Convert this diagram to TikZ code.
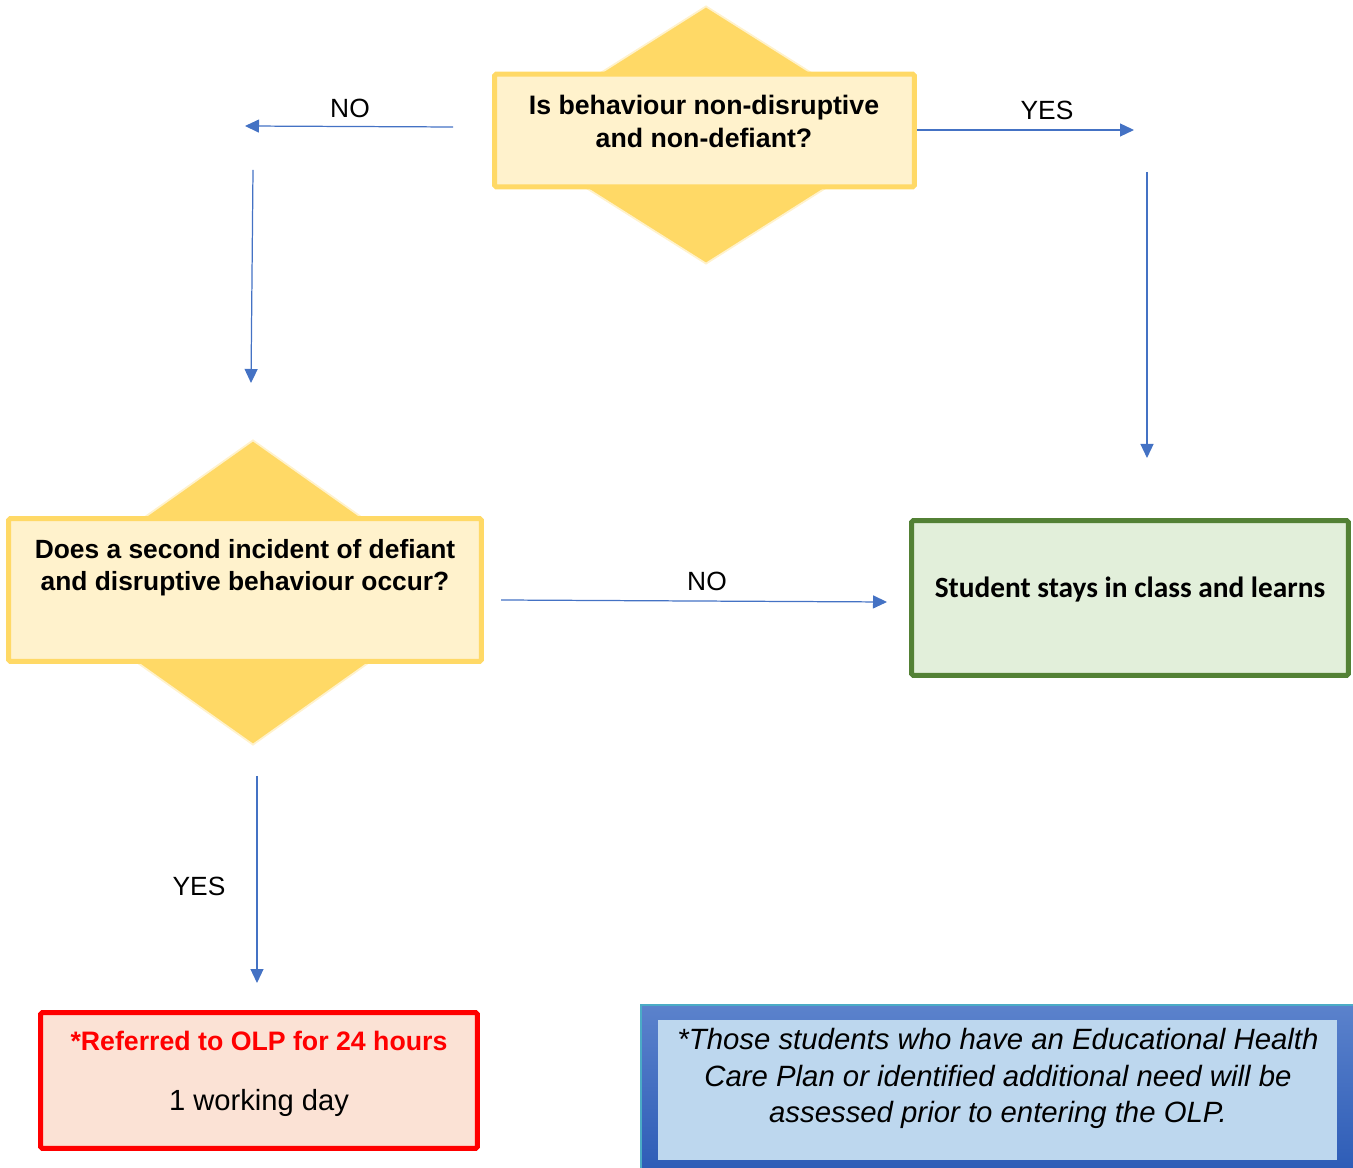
\documentclass[tikz,border=0pt]{standalone}
\usepackage{fontspec}
\setmainfont{Liberation Sans}
\newfontfamily\calibrifont{Carlito}
\usetikzlibrary{arrows.meta,shapes.geometric}
\definecolor{fcgold}{HTML}{FFD966}
\definecolor{fcgoldbg}{HTML}{FFF2CC}
\definecolor{fcgreen}{HTML}{538135}
\definecolor{fcgreenbg}{HTML}{E2EFDA}
\definecolor{fcred}{HTML}{FF0000}
\definecolor{fcredbg}{HTML}{FBE2D5}
\definecolor{fcarrow}{HTML}{4472C4}
\definecolor{fcnotetop}{HTML}{5B82CC}
\definecolor{fcnotebot}{HTML}{2E5DB7}
\definecolor{fcnotebg}{HTML}{BDD7EE}
\definecolor{fcteal}{HTML}{4BACC6}

\begin{document}
\begin{tikzpicture}[x=0.02cm,y=-0.02cm,
    flowarrow/.style={draw=fcarrow,line width=0.7pt,-{Triangle[length=0.28cm,width=0.26cm]}},
    decision/.style={diamond,fill=fcgold,draw=fcgoldbg,line width=1pt,inner sep=0pt},
    qbox/.style={rectangle,fill=fcgoldbg,draw=fcgold,line width=0.1cm,rounded corners=1pt,inner sep=0pt},
    qtext/.style={align=center,font=\fontsize{15.2}{18.8}\selectfont\bfseries},
    answer/.style={font=\fontsize{15}{18}\selectfont}]
  \useasboundingbox (0,0) rectangle (1353,1168);

  % first question
  \node[decision,minimum width=8.16cm,minimum height=5.16cm] (d1) at (706,135) {};
  \node[qbox,minimum width=8.40cm,minimum height=2.26cm] (q1) at (704.5,130.5) {};
  \node[qtext] (q1txt) at (704,121.5) {Is behaviour non-disruptive\\and non-defiant?};

  % second question
  \node[decision,minimum width=8.6cm,minimum height=6.1cm] (d2) at (253,592.5) {};
  \node[qbox,minimum width=9.46cm,minimum height=2.86cm] (q2) at (245,590) {};
  \node[qtext,font=\fontsize{15}{18.2}\selectfont\bfseries] (q2txt) at (245,568) {Does a second incident of defiant\\and disruptive behaviour occur?};

  % outcome boxes
  \node[rectangle,fill=fcgreenbg,draw=fcgreen,line width=0.1cm,rounded corners=1pt,
        minimum width=8.74cm,minimum height=3.10cm] (stay) at (1130,598) {};
  \node[font=\calibrifont\fontsize{16.7}{19}\selectfont\bfseries] (staytxt) at (1130,590)
    {Student stays in class and learns};

  \node[rectangle,fill=fcredbg,draw=fcred,line width=0.1cm,rounded corners=1pt,
        minimum width=8.74cm,minimum height=2.72cm] (olp) at (259,1080.5) {};
  \node[font=\fontsize{15.2}{18}\selectfont\bfseries,text=fcred] (olptxt) at (259,1041)
    {*Referred to OLP for 24 hours};
  \node[font=\fontsize{16.6}{19}\selectfont] (daytxt) at (259,1103) {1 working day};

  % note
  \fill[top color=fcnotetop,bottom color=fcnotebot] (641,1005) rectangle (1353,1168);
  \draw[fcteal,line width=1.2pt] (641,1168) |- (1353,1005);
  \fill[fcnotebg] (658,1020) rectangle (1337,1160);
  \node[align=center,font=\fontsize{16.7}{20.7}\selectfont\itshape] (notetxt) at (998,1078.5)
    {*Those students who have an Educational Health\\Care Plan or identified additional need will be\\assessed prior to entering the OLP.};

  % connectors
  \coordinate (noa) at (453,127);
  \coordinate (nob) at (245,126);
  \coordinate (yesa) at (917,130);
  \coordinate (yesb) at (1134,130);
  \coordinate (downa) at (253,170);
  \coordinate (downb) at (251,383);
  \coordinate (righta) at (1147,172);
  \coordinate (rightb) at (1147,458);
  \coordinate (midna) at (501,600);
  \coordinate (midnb) at (887,602);
  \coordinate (bota) at (257,776);
  \coordinate (botb) at (257,983);
  \draw[flowarrow] (noa) -- (nob);
  \draw[flowarrow] (yesa) -- (yesb);
  \draw[flowarrow] (downa) -- (downb);
  \draw[flowarrow] (righta) -- (rightb);
  \draw[flowarrow] (midna) -- (midnb);
  \draw[flowarrow] (bota) -- (botb);

  \node[answer] (notop) at (350,108) {NO};
  \node[answer] (yestop) at (1047,110) {YES};
  \node[answer] (nomid) at (707,581) {NO};
  \node[answer] (yesbot) at (199,886) {YES};
\end{tikzpicture}
\end{document}
